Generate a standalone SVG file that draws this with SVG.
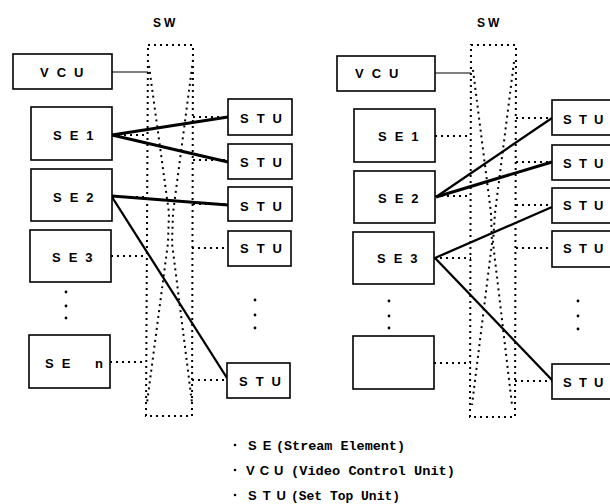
<svg xmlns="http://www.w3.org/2000/svg" width="610" height="504" viewBox="0 0 610 504">
<style>
.box{fill:#fff;stroke:#000;stroke-width:1.6}
.lbl{font-family:"Liberation Sans",Arial,sans-serif;font-weight:bold;font-size:13px;letter-spacing:8px;fill:#000}
.lbr{font-family:"Liberation Sans",Arial,sans-serif;font-weight:bold;font-size:13px;fill:#000}
.sw{font-family:"Liberation Sans",Arial,sans-serif;font-weight:bold;font-size:12px;letter-spacing:3px;fill:#000}
.dot{fill:none;stroke:#000;stroke-width:2;stroke-dasharray:2 4}
.thin{fill:none;stroke:#000;stroke-width:1.2}
.thick{fill:none;stroke:#000;stroke-width:3}
.mid{fill:none;stroke:#000;stroke-width:2.3}
.vd{fill:#000}
.leg{font-family:"Liberation Sans",Arial,sans-serif;font-weight:bold;font-size:13px;fill:#000}
.legm{font-family:"Liberation Mono","DejaVu Sans Mono",monospace;font-weight:bold;font-size:13.3px;fill:#000}
</style>

<!-- switches -->
<g id="sw-left">
<text class="sw" x="153" y="27">SW</text>
<polygon class="dot" points="148,45 193,45 192,416 146,416"/>
<polyline class="dot" points="149,66 169,213 168,243 147,403"/>
<polyline class="dot" points="193,60 173,213 172,243 192,403"/>
</g>
<g id="sw-right">
<text class="sw" x="477" y="27">SW</text>
<polygon class="dot" points="471,45 516,45 515,417 470,417"/>
<polyline class="dot" points="473,70 491,213 492,243 472,405"/>
<polyline class="dot" points="514,62 495,213 493,243 512,405"/>
</g>

<!-- connectors -->
<g id="connectors">
<!-- left panel -->
<line class="thin" x1="112" y1="72" x2="148" y2="72"/>
<line class="dot" x1="112" y1="135" x2="148" y2="135"/>
<line class="dot" x1="112" y1="197" x2="148" y2="197"/>
<line class="dot" x1="111" y1="256" x2="146" y2="256"/>
<line class="dot" x1="110" y1="362" x2="146" y2="362"/>
<line class="dot" x1="193" y1="117" x2="228" y2="117"/>
<line class="dot" x1="193" y1="160" x2="228" y2="160"/>
<line class="dot" x1="193" y1="204" x2="228" y2="204"/>
<line class="dot" x1="192" y1="248" x2="228" y2="248"/>
<line class="dot" x1="192" y1="380" x2="227" y2="380"/>
<line class="thick" x1="112" y1="135" x2="228" y2="117"/>
<line class="thick" x1="112" y1="135" x2="228" y2="162"/>
<line class="thick" x1="112" y1="196" x2="228" y2="205"/>
<line class="mid" x1="112" y1="197" x2="227" y2="378"/>
<!-- right panel -->
<line class="thin" x1="435" y1="73" x2="471" y2="73"/>
<line class="dot" x1="435" y1="136" x2="471" y2="136"/>
<line class="dot" x1="435" y1="196" x2="471" y2="196"/>
<line class="dot" x1="434" y1="258" x2="471" y2="258"/>
<line class="dot" x1="434" y1="363" x2="471" y2="363"/>
<line class="dot" x1="516" y1="118" x2="552" y2="118"/>
<line class="dot" x1="516" y1="162" x2="552" y2="162"/>
<line class="dot" x1="516" y1="205" x2="552" y2="205"/>
<line class="dot" x1="516" y1="248" x2="552" y2="248"/>
<line class="dot" x1="515" y1="381" x2="552" y2="381"/>
<line class="mid" x1="436" y1="197" x2="552" y2="118"/>
<line class="thick" x1="436" y1="197" x2="552" y2="162"/>
<line class="mid" x1="435" y1="258" x2="552" y2="207"/>
<line class="mid" x1="435" y1="258" x2="552" y2="380"/>
</g>

<!-- left nodes -->
<g id="vcu-l"><rect class="box" x="13" y="54" width="99" height="35"/><text class="lbl" x="40" y="77">VCU</text></g>
<g id="se1-l"><rect class="box" x="31" y="107" width="81" height="53"/><text class="lbl" x="53" y="140">SE1</text></g>
<g id="se2-l"><rect class="box" x="31" y="169" width="81" height="52"/><text class="lbl" x="53" y="202">SE2</text></g>
<g id="se3-l"><rect class="box" x="30" y="230" width="81" height="52"/><text class="lbl" x="52" y="262">SE3</text></g>
<g id="sedots-l"><circle class="vd" cx="66" cy="292" r="1.4"/><circle class="vd" cx="66" cy="306" r="1.4"/><circle class="vd" cx="66" cy="318" r="1.4"/></g>
<g id="sen-l"><rect class="box" x="29" y="335" width="81" height="53"/><text class="lbl" x="45" y="368">SE</text><text class="lbl" x="95" y="368">n</text></g>
<g id="stu1-l"><rect class="box" x="228" y="99" width="64" height="36"/><text class="lbl" x="240" y="123">STU</text></g>
<g id="stu2-l"><rect class="box" x="228" y="144" width="64" height="35"/><text class="lbl" x="240" y="167">STU</text></g>
<g id="stu3-l"><rect class="box" x="228" y="187" width="64" height="34"/><text class="lbl" x="240" y="211">STU</text></g>
<g id="stu4-l"><rect class="box" x="228" y="231" width="63" height="35"/><text class="lbl" x="240" y="253">STU</text></g>
<g id="studots-l"><circle class="vd" cx="255" cy="300" r="1.4"/><circle class="vd" cx="255" cy="315" r="1.4"/><circle class="vd" cx="255" cy="328" r="1.4"/></g>
<g id="stu5-l"><rect class="box" x="227" y="363" width="63" height="35"/><text class="lbl" x="239" y="386">STU</text></g>

<!-- right nodes -->
<g id="vcu-r"><rect class="box" x="337" y="56" width="98" height="35"/><text class="lbl" x="355" y="78">VCU</text></g>
<g id="se1-r"><rect class="box" x="354" y="109" width="81" height="53"/><text class="lbl" x="378" y="141">SE1</text></g>
<g id="se2-r"><rect class="box" x="354" y="171" width="81" height="52"/><text class="lbl" x="378" y="203">SE2</text></g>
<g id="se3-r"><rect class="box" x="353" y="232" width="81" height="52"/><text class="lbl" x="377" y="263">SE3</text></g>
<g id="sedots-r"><circle class="vd" cx="389" cy="301" r="1.4"/><circle class="vd" cx="389" cy="316" r="1.4"/><circle class="vd" cx="389" cy="328" r="1.4"/></g>
<g id="blank-r"><rect class="box" x="353" y="336" width="81" height="53"/></g>
<g id="stu1-r"><rect class="box" x="552" y="100" width="64" height="35"/><text class="lbr" x="563 579 594" y="124">STU</text></g>
<g id="stu2-r"><rect class="box" x="552" y="145" width="64" height="35"/><text class="lbr" x="563 579 594" y="168">STU</text></g>
<g id="stu3-r"><rect class="box" x="552" y="188" width="64" height="35"/><text class="lbr" x="563 579 594" y="210">STU</text></g>
<g id="stu4-r"><rect class="box" x="552" y="231" width="64" height="36"/><text class="lbr" x="563 579 594" y="253">STU</text></g>
<g id="studots-r"><circle class="vd" cx="578" cy="301" r="1.4"/><circle class="vd" cx="578" cy="316" r="1.4"/><circle class="vd" cx="578" cy="329" r="1.4"/></g>
<g id="stu5-r"><rect class="box" x="552" y="364" width="64" height="35"/><text class="lbr" x="563 579 594" y="387">STU</text></g>

<!-- legend -->
<g id="legend">
<circle class="vd" cx="235" cy="445" r="1.3"/>
<text class="leg" x="248" y="450" letter-spacing="6">SE</text>
<text class="legm" x="276" y="450" textLength="129" lengthAdjust="spacingAndGlyphs">(Stream Element)</text>
<circle class="vd" cx="235" cy="470" r="1.3"/>
<text class="leg" x="246" y="475" letter-spacing="5">VCU</text>
<text class="legm" x="291" y="475" textLength="164" lengthAdjust="spacingAndGlyphs">(Video Control Unit)</text>
<circle class="vd" cx="235" cy="495" r="1.3"/>
<text class="leg" x="248" y="500" letter-spacing="6">STU</text>
<text class="legm" x="291" y="500" textLength="109" lengthAdjust="spacingAndGlyphs">(Set Top Unit)</text>
</g>
</svg>
